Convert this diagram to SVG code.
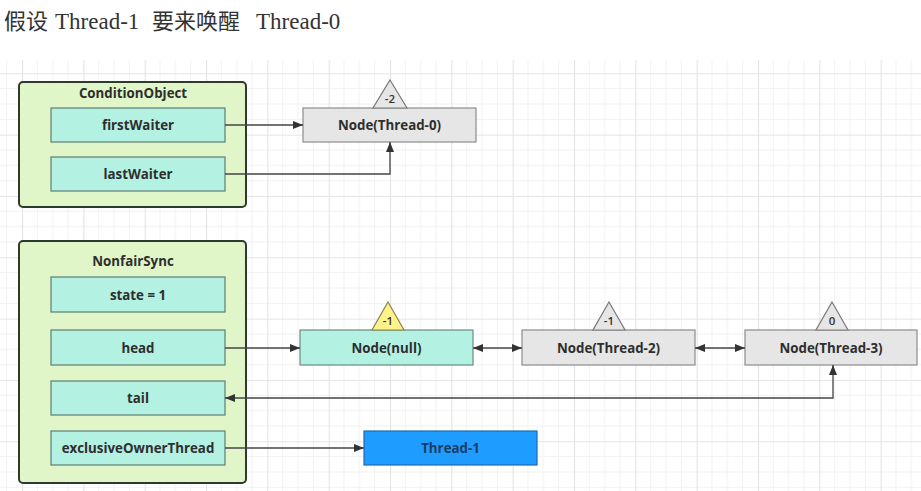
<svg xmlns="http://www.w3.org/2000/svg" width="921" height="491" viewBox="0 0 921 491">
  <defs>
    <pattern id="grid" patternUnits="userSpaceOnUse" x="22" y="12" width="61.33" height="61.33">
      <path d="M15.33 0V61.33M30.67 0V61.33M46 0V61.33M0 15.33H61.33M0 30.67H61.33M0 46H61.33" stroke="#f2f2f2" stroke-width="1" fill="none"/>
      <path d="M0.5 0V61.33M0 0.5H61.33" stroke="#e4e4e4" stroke-width="1.2" fill="none"/>
    </pattern>
    <marker id="arr" viewBox="0 0 10 8" refX="10" refY="4" markerWidth="10" markerHeight="8" markerUnits="userSpaceOnUse" orient="auto-start-reverse">
      <path d="M0 0L10 4L0 8z" fill="#333"/>
    </marker>
  </defs>
  <style>
    .t { font-family: "Open Sans", "Liberation Sans", sans-serif; font-weight: bold; font-size: 13.3px; fill: #2e2e2e; text-anchor: middle; }
    .tri { font-family: "Open Sans", "Liberation Sans", sans-serif; font-weight: 600; font-size: 11.5px; fill: #333; text-anchor: middle; }
    .cont { fill: #e0f6c9; stroke: #2f3a2f; stroke-width: 2; }
    .field { fill: #b3f1e2; stroke: #5f7d74; stroke-width: 1.2; }
    .node { fill: #e6e6e6; stroke: #8c8c8c; stroke-width: 1.2; }
    .gtri { fill: #e6e6e6; stroke: #7a7a7a; stroke-width: 1.2; }
    .ytri { fill: #fdf38a; stroke: #8a8650; stroke-width: 1.2; }
    .nnull { fill: #b3f1e2; stroke: #6c8c82; stroke-width: 1.2; }
    .blue { fill: #1f9cff; stroke: #1a6cb5; stroke-width: 1.2; }
    .edge { fill: none; stroke: #444; stroke-width: 1.3; }
    .zh { font-family: "Noto Sans CJK SC", sans-serif; font-size: 22px; }
    .en { font-family: "Liberation Serif", serif; font-size: 23px; }
  </style>
  <rect width="921" height="491" fill="#fff"/>
  <rect x="0" y="60" width="921" height="431" fill="url(#grid)"/>

  <text y="29" fill="#333"><tspan class="zh" x="4">假设</tspan><tspan class="en" x="55">Thread-1</tspan><tspan class="zh" x="152">要来唤醒</tspan><tspan class="en" x="256">Thread-0</tspan></text>

  <g id="conditionObject">
    <rect class="cont" x="19" y="82" width="227" height="125" rx="4"/>
    <text class="t" x="133" y="97.5">ConditionObject</text>
  </g>
  <g id="firstWaiter">
    <rect class="field" x="51" y="108" width="174" height="34"/>
    <text class="t" x="138" y="130">firstWaiter</text>
  </g>
  <g id="lastWaiter">
    <rect class="field" x="51" y="157" width="174" height="34"/>
    <text class="t" x="138" y="179">lastWaiter</text>
  </g>
  <g id="nodeThread0">
    <rect class="node" x="303" y="108" width="173" height="34"/>
    <text class="t" x="389.5" y="130">Node(Thread-0)</text>
    <path class="gtri" d="M390 80L407 108H373z"/>
    <text class="tri" x="390" y="102.5">-2</text>
  </g>

  <g id="nonfairSync">
    <rect class="cont" x="19" y="241" width="227" height="242" rx="4"/>
    <text class="t" x="133" y="265.5">NonfairSync</text>
  </g>
  <g id="state">
    <rect class="field" x="51" y="277" width="174" height="35"/>
    <text class="t" x="138" y="299.5">state = 1</text>
  </g>
  <g id="head">
    <rect class="field" x="51" y="330" width="174" height="35"/>
    <text class="t" x="138" y="352.5">head</text>
  </g>
  <g id="tail">
    <rect class="field" x="51" y="381" width="174" height="34"/>
    <text class="t" x="138" y="403">tail</text>
  </g>
  <g id="exclusiveOwnerThread">
    <rect class="field" x="51" y="431" width="174" height="34"/>
    <text class="t" x="138" y="453">exclusiveOwnerThread</text>
  </g>

  <g id="nodeNull">
    <rect class="nnull" x="300" y="330" width="173" height="35"/>
    <text class="t" x="386.5" y="352.5">Node(null)</text>
    <path class="ytri" d="M388 302L404 330H372z"/>
    <text class="tri" x="388" y="324.5">-1</text>
  </g>
  <g id="nodeThread2">
    <rect class="node" x="522" y="330" width="173" height="35"/>
    <text class="t" x="608.5" y="352.5">Node(Thread-2)</text>
    <path class="gtri" d="M609 302L625 330H593z"/>
    <text class="tri" x="609" y="324.5">-1</text>
  </g>
  <g id="nodeThread3">
    <rect class="node" x="745" y="330" width="172" height="35"/>
    <text class="t" x="831" y="352.5">Node(Thread-3)</text>
    <path class="gtri" d="M832 302L848 330H816z"/>
    <text class="tri" x="832" y="324.5">0</text>
  </g>
  <g id="thread1">
    <rect class="blue" x="364" y="431" width="173" height="34"/>
    <text class="t" x="450.5" y="453" style="fill:#1c3d63">Thread-1</text>
  </g>

  <g id="connectors">
    <path class="edge" d="M225 125H303" marker-end="url(#arr)"/>
    <path class="edge" d="M225 174H390V142" marker-end="url(#arr)"/>
    <path class="edge" d="M225 348H300" marker-end="url(#arr)"/>
    <path class="edge" d="M473 348H522" marker-start="url(#arr)" marker-end="url(#arr)"/>
    <path class="edge" d="M695 348H745" marker-start="url(#arr)" marker-end="url(#arr)"/>
    <path class="edge" d="M833 365V398H225" marker-start="url(#arr)" marker-end="url(#arr)"/>
    <path class="edge" d="M225 448H364" marker-end="url(#arr)"/>
  </g>
</svg>
